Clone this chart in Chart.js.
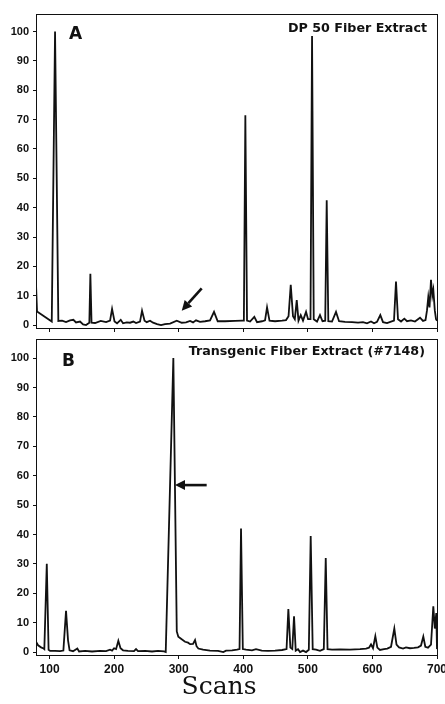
<!DOCTYPE html>
<html>
<head>
<meta charset="utf-8">
<script src="https://cdn.jsdelivr.net/npm/chart.js@4/dist/chart.umd.min.js"></script>
<style>
  body { margin: 0; background: #fff; }
  #wrap { position: relative; width: 445px; height: 704px; overflow: hidden; }
  canvas { position: absolute; left: 0; }
  #chartA { top: 0; }
  #chartB { top: 336px; }
</style>
</head>
<body>
<div id="wrap">
  <canvas id="chartA" width="445" height="336"></canvas>
  <canvas id="chartB" width="445" height="368"></canvas>
</div>
<script>
// Panel A - DP 50 fiber extract (scan number, relative intensity %)
const scansA = [79, 80.6, 103.4, 108.5, 113.6, 119.4, 125.5, 131.7, 136.9, 141, 147.2, 151.9, 156.5, 160.4, 161.6, 163.2, 165,
  170.5, 179.3, 187.5, 193.7, 196.8, 200.6, 204.5, 210.2, 213.8, 219.5, 224.6, 229.8, 233.9, 240.1, 243.2, 247.1, 250.5,
  255.6, 260.3, 266.5, 272.6, 278.8, 286.6, 297, 304.7, 311.4, 317.6, 322.2, 326.8, 333, 340.8, 348.5, 354.7, 360.4,
  371.7, 387.2, 398.1, 400.9, 403.2, 405.8, 410.5, 417.1, 421.3, 429, 433.7, 436.8, 440.6, 449.2, 460, 466.2, 470.1,
  473.5, 477, 479.8, 482.8, 485.5, 489, 492.5, 497.2, 500.3, 504.1, 506.5, 509.1, 514.2, 518.8, 522.7, 526.9, 529.2,
  531.7, 537.4, 543.6, 548.3, 557.6, 568.4, 577.7, 585.4, 591.6, 597.8, 602.5, 607.1, 612.2, 616.4, 622.6, 628.8,
  633.4, 636.5, 639.6, 644.3, 649.4, 653.6, 659.7, 665.9, 673.7, 678.3, 682.2, 684.5, 686.5, 688.4, 690.7, 692.7,
  694.3, 696.6, 698.5, 700];
const intensityA = [14, 4.6, 1.2, 100, 1.4, 1.5, 1.0, 1.6, 1.8, 0.9, 1.2, 0.2, 0.0, 0.6, 0.8, 17.5, 0.8,
  0.7, 1.4, 1.0, 1.5, 5.5, 1.2, 0.6, 1.8, 0.6, 0.9, 0.8, 1.2, 0.7, 1.2, 4.9, 1.5, 1.0,
  1.5, 0.8, 0.3, 0.0, 0.3, 0.5, 1.5, 0.8, 0.9, 1.4, 0.9, 1.6, 1.1, 1.3, 1.6, 4.5, 1.3,
  1.3, 1.4, 1.5, 1.5, 71.5, 1.5, 1.2, 2.8, 1.0, 1.3, 1.6, 6.0, 1.5, 1.3, 1.5, 1.7, 3.0,
  13.7, 3.0, 2.0, 8.5, 1.5, 3.4, 1.5, 4.5, 2.0, 2.0, 98.5, 2.0, 1.2, 3.4, 1.3, 1.5, 42.5,
  1.3, 1.2, 4.5, 1.3, 1.1, 1.0, 0.8, 1.0, 0.6, 1.2, 0.6, 1.1, 3.4, 1.0, 0.7, 1.2,
  1.5, 14.8, 2.0, 1.2, 2.2, 1.3, 1.6, 1.2, 2.5, 1.4, 1.7, 5.0, 9.5, 6.0, 15.4, 10.0,
  12.0, 5.0, 2.0, 1.5];

// Panel B - transgenic fiber extract (#7148)
const scansB = [79, 82.2, 86.8, 90.7, 91.9, 95.7, 98.5, 100.8, 108.5, 116.3, 121.4, 125.5, 128.6, 131, 136.4, 143, 145.7,
  155, 165.8, 178.2, 187.5, 193.7, 196.8, 199.9, 203, 206.5, 209.9, 213.8, 221.5, 230.8, 233.9, 237, 247.9, 258.7,
  268, 277.3, 279.9, 291.7, 297, 299.4, 303.6, 309.8, 314.5, 317.6, 322.2, 325.3, 327.6, 330.4, 337.7, 348.5, 360.9,
  369.1, 373.3, 382.6, 390.3, 394.2, 396.5, 399.3, 404.3, 413.5, 419.7, 428.6, 438.3, 449.2, 460, 467, 469.8, 472.9,
  475.9, 478.6, 481.2, 484.8, 487.9, 492.5, 497.2, 501.5, 504.4, 507.5, 512.6, 518.8, 524.7, 527.7, 530.5, 537.4,
  549.8, 565.3, 580.8, 590.1, 594.7, 597.8, 600.9, 604.5, 607.6, 611.7, 617.9, 623, 628.8, 633.9, 637.3, 641.2,
  647.4, 652, 658.2, 664.4, 670.6, 675.2, 678.8, 681.9, 686.1, 690.7, 694.3, 696.6, 698.9, 700];
const intensityB = [3.5, 2.3, 1.6, 1.2, 1.0, 30, 0.8, 0.4, 0.4, 0.3, 0.5, 14, 4, 0.6, 0.3, 1.2, 0.2,
  0.4, 0.2, 0.4, 0.3, 0.8, 0.5, 1.3, 1.0, 3.8, 1.3, 0.6, 0.4, 0.3, 1.0, 0.3, 0.4, 0.2,
  0.4, 0.2, 0.0, 100, 7, 5.2, 4.5, 3.5, 3.2, 2.7, 2.8, 4.1, 2.0, 1.2, 0.8, 0.5, 0.4,
  0.0, 0.5, 0.6, 0.8, 1.0, 42, 1.0, 0.8, 0.6, 1.0, 0.5, 0.4, 0.5, 0.7, 1.0, 14.6, 1.5,
  1.0, 12.2, 0.5, 1.0, 0.0, 0.5, 0.0, 0.8, 39.5, 1.0, 0.8, 0.4, 1.0, 32, 1.0, 0.8,
  0.9, 0.8, 1.0, 1.2, 1.5, 2.6, 1.3, 5.4, 1.5, 0.7, 1.0, 1.2, 1.8, 8.0, 2.5, 1.6,
  1.2, 1.6, 1.3, 1.4, 1.6, 2.2, 5.3, 1.8, 1.5, 2.5, 15.6, 8, 13.3, 1];

const xTicks = [100, 200, 300, 400, 500, 600, 700];
const yTicks = [0, 10, 20, 30, 40, 50, 60, 70, 80, 90, 100];

// arrows: [tail, head] in scan / intensity units
const arrowA = [[335.6, 12.5], [304.7, 4.9]];
const arrowB = [[343.3, 56.8], [294.3, 56.8]];

const ink = '#111';

// frame, panel letter, title, arrow and axis caption
const panelText = {
    id: 'panelText',
    afterDraw(chart, args, opts) {
        const ctx = chart.ctx;
        const a = chart.chartArea;
        const sx = chart.scales.x, sy = chart.scales.y;
        ctx.save();
        ctx.strokeStyle = ink;
        ctx.lineWidth = 1;
        ctx.strokeRect(Math.round(a.left) + 0.5, Math.round(a.top) + 0.5,
            Math.round(a.right - a.left), Math.round(a.bottom - a.top));

        ctx.fillStyle = ink;
        ctx.textBaseline = 'middle';
        ctx.font = 'bold 17px "DejaVu Sans"';
        ctx.textAlign = 'left';
        ctx.fillText(opts.letter, opts.letterX, opts.letterY);

        ctx.font = 'bold 12.7px "DejaVu Sans"';
        ctx.textAlign = 'right';
        ctx.fillText(opts.title, opts.titleX, opts.titleY);

        if (opts.arrow) {
            const x0 = sx.getPixelForValue(opts.arrow[0][0]), y0 = sy.getPixelForValue(opts.arrow[0][1]);
            const x1 = sx.getPixelForValue(opts.arrow[1][0]), y1 = sy.getPixelForValue(opts.arrow[1][1]);
            const ang = Math.atan2(y1 - y0, x1 - x0);
            const hl = 10, hw = 5;
            const bx = x1 - hl * Math.cos(ang), by = y1 - hl * Math.sin(ang);
            ctx.lineWidth = 2.6;
            ctx.beginPath();
            ctx.moveTo(x0, y0);
            ctx.lineTo(bx, by);
            ctx.stroke();
            ctx.beginPath();
            ctx.moveTo(x1, y1);
            ctx.lineTo(bx + hw * Math.sin(ang), by - hw * Math.cos(ang));
            ctx.lineTo(bx - hw * Math.sin(ang), by + hw * Math.cos(ang));
            ctx.closePath();
            ctx.fill();
        }

        if (opts.caption) {
            ctx.font = '25px "DejaVu Serif"';
            ctx.textAlign = 'center';
            ctx.fillText(opts.caption, opts.captionX, opts.captionY);
        }
        ctx.restore();
    }
};

function makePanel(canvasId, scans, values, yMax, padTop, xHeight, showXLabels, text) {
    const pts = scans.map((s, i) => ({ x: s, y: values[i] }));
    return new Chart(document.getElementById(canvasId), {
        type: 'line',
        data: {
            datasets: [{
                data: pts,
                borderColor: ink,
                borderWidth: 1.8,
                pointRadius: 0,
                tension: 0,
                fill: false
            }]
        },
        options: {
            responsive: false,
            animation: false,
            devicePixelRatio: 1,
            layout: { padding: { top: padTop, right: 8, bottom: 0, left: 0 } },
            plugins: {
                legend: { display: false },
                tooltip: { enabled: false },
                panelText: text
            },
            scales: {
                x: {
                    type: 'linear',
                    min: 79,
                    max: 700,
                    afterBuildTicks: s => { s.ticks = xTicks.map(v => ({ value: v })); },
                    afterFit: s => {
                        s.height = xHeight;
                        s.paddingLeft = 0;
                        s.paddingRight = 0;
                    },
                    grid: { drawOnChartArea: false, tickLength: 4, color: ink },
                    border: { color: ink, width: 1 },
                    ticks: {
                        display: showXLabels,
                        maxRotation: 0,
                        padding: 3,
                        color: ink,
                        font: { family: '"Liberation Sans"', weight: 'bold', size: 12 }
                    }
                },
                y: {
                    min: -1,
                    max: yMax,
                    afterBuildTicks: s => { s.ticks = yTicks.map(v => ({ value: v })); },
                    afterFit: s => {
                        s.width = 36;
                        s.paddingTop = 0;
                        s.paddingBottom = 0;
                    },
                    grid: { drawOnChartArea: false, tickLength: 3, color: ink },
                    border: { color: ink, width: 1 },
                    ticks: {
                        padding: 4,
                        color: ink,
                        font: { family: '"Liberation Sans"', weight: 'bold', size: 11 }
                    }
                }
            }
        },
        plugins: [panelText]
    });
}

makePanel('chartA', scansA, intensityA, 106, 14, 8, false, {
    letter: 'A', letterX: 69, letterY: 35,
    title: 'DP 50 Fiber Extract', titleX: 427, titleY: 29,
    arrow: arrowA
});

makePanel('chartB', scansB, intensityB, 106.5, 3, 49, true, {
    letter: 'B', letterX: 62, letterY: 26,
    title: 'Transgenic Fiber Extract (#7148)', titleX: 425, titleY: 16,
    arrow: arrowB,
    caption: 'Scans', captionX: 219, captionY: 351
});
</script>
</body>
</html>
